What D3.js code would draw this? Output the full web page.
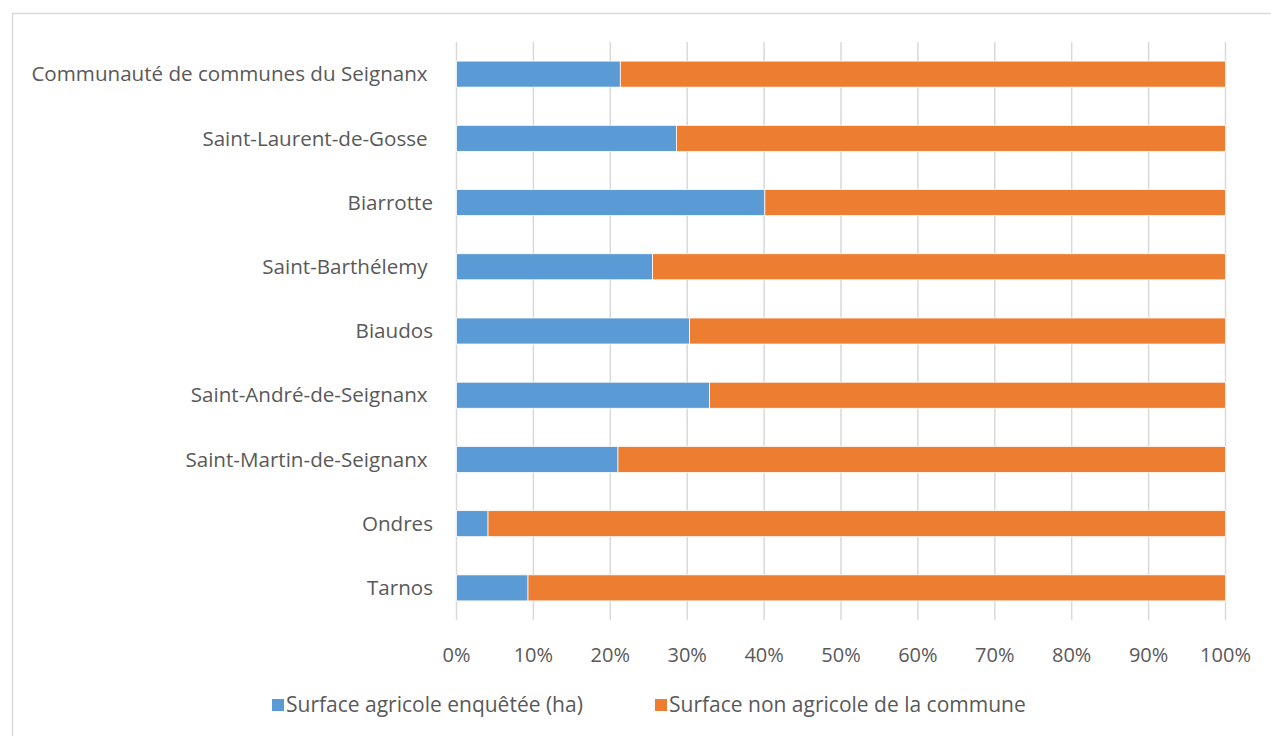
<!DOCTYPE html>
<html>
<head>
<meta charset="utf-8">
<script src="https://cdn.jsdelivr.net/npm/d3@7"></script>
<style>
  body { margin: 0; background: #fff; }
  text { font-family: "Open Sans", Lato, sans-serif; fill: #595959; white-space: pre; }
</style>
</head>
<body>
<div id="main-content"></div>
<script>
// communes, top to bottom (trailing spaces come from the source labels)
const communes = [
  "Communauté de communes du Seignanx ",
  "Saint-Laurent-de-Gosse ",
  "Biarrotte",
  "Saint-Barthélemy ",
  "Biaudos",
  "Saint-André-de-Seignanx ",
  "Saint-Martin-de-Seignanx ",
  "Ondres",
  "Tarnos"
]
// share of surveyed agricultural area, in %
const agricole = [21.3, 28.6, 40.1, 25.5, 30.3, 32.9, 21.0, 4.1, 9.3]
const nonAgricole = agricole.map(v => 100 - v)
const seriesNames = ["Surface agricole enquêtée (ha)", "Surface non agricole de la commune"]
const seriesColors = ["#5b9bd5", "#ed7d31"]
const ticks = [0, 10, 20, 30, 40, 50, 60, 70, 80, 90, 100]

const width = 1271, height = 736

const svg = d3.select("#main-content")
  .append("svg")
  .attr("width", width)
  .attr("height", height)

// chart frame
svg.append("rect")
  .attr("x", 12.5).attr("y", 13.5)
  .attr("width", width).attr("height", height)
  .attr("fill", "none")
  .attr("stroke", "#d9d9d9")
  .attr("stroke-width", 1.5)

const x = d3.scaleLinear().domain([0, 100]).range([456.5, 1225.5])
const y = d3.scaleBand()
  .domain(communes)
  .range([42, 620])
  .paddingInner(0.595)
  .paddingOuter(0.2975)

// gridlines
svg.append("g")
  .selectAll("line")
  .data(ticks)
  .enter()
  .append("line")
  .attr("x1", d => x(d)).attr("x2", d => x(d))
  .attr("y1", 42).attr("y2", 620)
  .attr("stroke", "#d9d9d9")
  .attr("stroke-width", 1.5)

const rows = communes.map((c, i) => ({ name: c, values: [agricole[i], nonAgricole[i]] }))
const stacked = d3.stack().keys([0, 1]).value((d, k) => d.values[k])(rows)

svg.append("g")
  .selectAll("g")
  .data(stacked)
  .enter()
  .append("g")
  .attr("fill", (d, i) => seriesColors[i])
  .selectAll("rect")
  .data(d => d)
  .enter()
  .append("rect")
  .attr("x", d => x(d[0]))
  .attr("width", d => x(d[1]) - x(d[0]))
  .attr("y", d => y(d.data.name))
  .attr("height", y.bandwidth())
  .attr("stroke", "white")
  .attr("stroke-width", 0.75)

// category labels
svg.append("g")
  .selectAll("text")
  .data(communes)
  .enter()
  .append("text")
  .attr("x", 433)
  .attr("y", d => y(d) + y.bandwidth() / 2)
  .attr("dy", "0.35em")
  .attr("text-anchor", "end")
  .style("font-size", "20.6px")
  .text(d => d)

// x tick labels
svg.append("g")
  .selectAll("text")
  .data(ticks)
  .enter()
  .append("text")
  .attr("x", d => x(d))
  .attr("y", 655)
  .attr("dy", "0.35em")
  .attr("text-anchor", "middle")
  .style("font-size", "20px")
  .text(d => d + "%")

// legend
const legendX = [272, 655]
const legend = svg.append("g")
  .selectAll("g")
  .data(seriesNames)
  .enter()
  .append("g")
  .attr("transform", (d, i) => "translate(" + legendX[i] + ",705)")

legend.append("rect")
  .attr("x", 0).attr("y", -6)
  .attr("width", 12).attr("height", 12)
  .attr("fill", (d, i) => seriesColors[i])

legend.append("text")
  .attr("x", 14)
  .attr("dy", "0.35em")
  .style("font-size", "21px")
  .text(d => d)
</script>
</body>
</html>
